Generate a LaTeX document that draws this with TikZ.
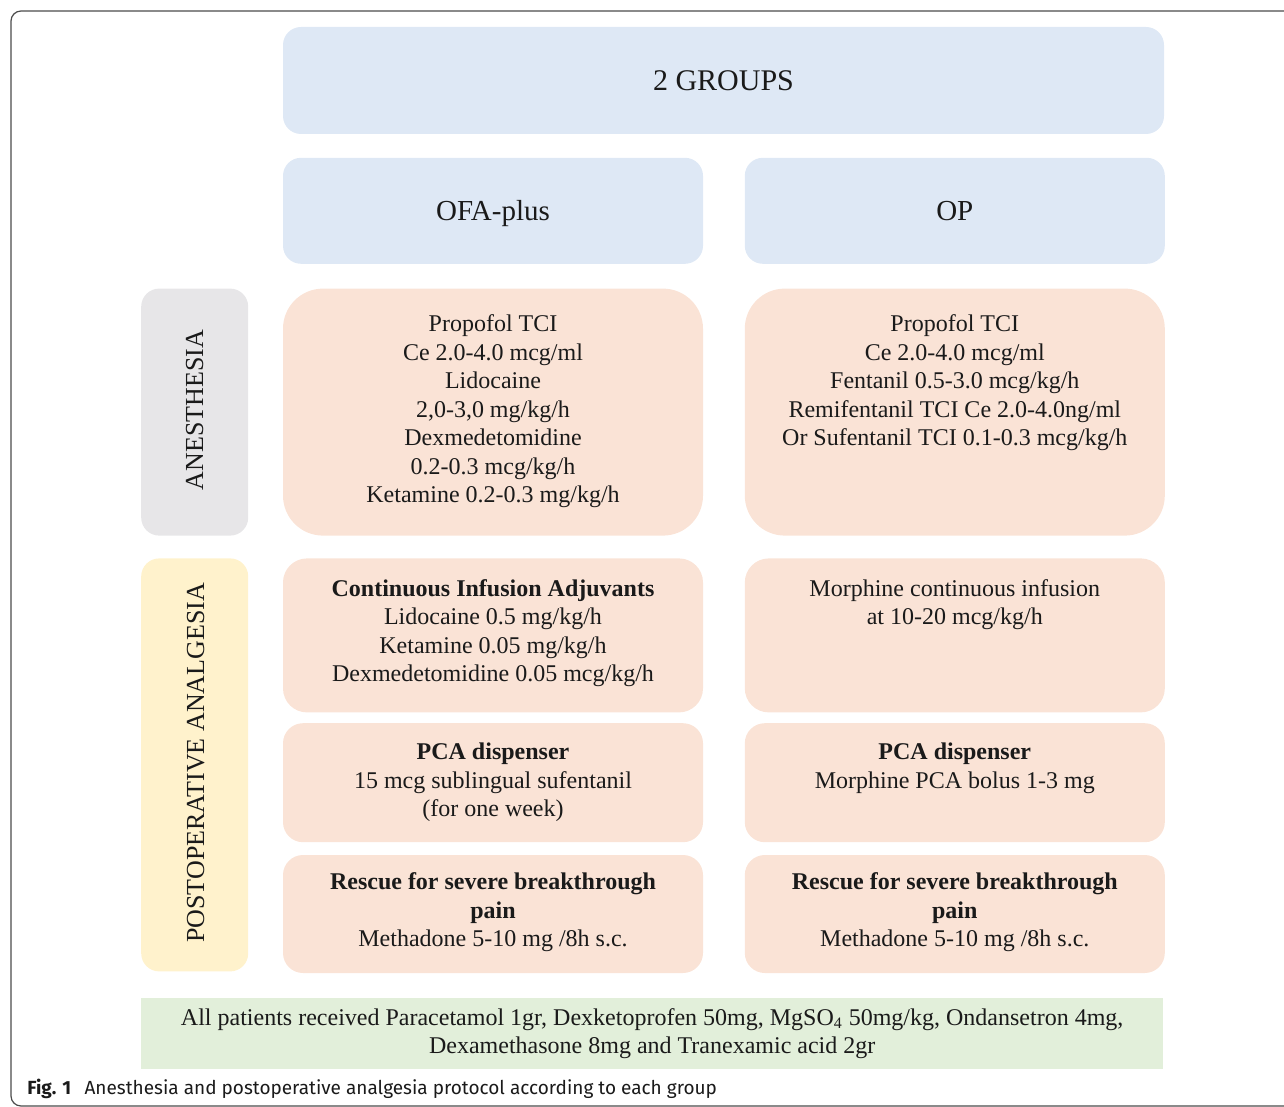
\documentclass[tikz,border=0pt]{standalone}
\usepackage{fontspec}
\setmainfont{Liberation Serif}
\newfontfamily\capfont{Fira Sans}
\usepackage{tikz}
\usetikzlibrary{positioning}

\definecolor{grpblue}{RGB}{222,232,245}
\definecolor{drugpeach}{RGB}{250,227,214}
\definecolor{lblgray}{RGB}{231,230,232}
\definecolor{lblyellow}{RGB}{255,242,204}
\definecolor{allgreen}{RGB}{226,239,218}
\definecolor{inkgray}{RGB}{26,26,26}

\begin{document}
\begin{tikzpicture}[x=0.5pt, y=-0.5pt, text=inkgray,
        font=\fontsize{12}{14.25}\selectfont,
        grpbox/.style={fill=grpblue, rounded corners=9pt, inner sep=0pt,
            minimum width=210pt, minimum height=53pt, text height=9.6pt, text depth=0pt,
            font=\fontsize{14.5}{17}\selectfont},
        drugbox/.style={fill=drugpeach, rounded corners=#1, inner sep=0pt, minimum width=210pt},
        drugbox/.default=10pt,
        drugtext/.style={inner sep=0pt, align=center},
        sidelbl/.style={rounded corners=9pt, inner sep=0pt, minimum width=53.5pt},
        sidetext/.style={rotate=90, font=\fontsize{13}{15}\selectfont}]
    \useasboundingbox (0,0) rectangle (1284,1107);
    % frame of the figure
    \draw[gray!60!black, line width=0.6pt, rounded corners=5pt]
        (1300,1106) -- (11,1106) -- (11,11) -- (1300,11);

    % groups
    \node [grpbox, minimum width=440.5pt, minimum height=53.5pt, font=\fontsize{15}{17}\selectfont] (groups) at (723.5,80.5) {2 GROUPS};
    \node [grpbox, below right=11.5pt and 0pt of groups.south west] (ofa) {OFA-plus};
    \node [grpbox, right=20.5pt of ofa] (op) {OP};

    % anesthesia
    \node [drugbox=20pt, minimum height=123.5pt, below=12pt of ofa] (anesOfa) {};
    \node [drugbox=20pt, minimum height=123.5pt, below=12pt of op] (anesOp) {};
    \node [sidelbl, fill=lblgray, minimum height=123.5pt, left=17pt of anesOfa] (anesLbl) {};
    \node [sidetext, xshift=1pt] (anesTxt) at (anesLbl) {ANESTHESIA};
    \node [drugtext, below=13pt of anesOfa.north] (anesOfaTxt) {Propofol TCI\\Ce 2.0-4.0 mcg/ml\\Lidocaine\\2,0-3,0 mg/kg/h\\Dexmedetomidine\\0.2-0.3 mcg/kg/h\\Ketamine 0.2-0.3 mg/kg/h};
    \node [drugtext, below=13pt of anesOp.north] (anesOpTxt) {Propofol TCI\\Ce 2.0-4.0 mcg/ml\\Fentanil 0.5-3.0 mcg/kg/h\\Remifentanil TCI Ce 2.0-4.0ng/ml\\Or Sufentanil TCI 0.1-0.3 mcg/kg/h};

    % postoperative analgesia
    \node [drugbox=12pt, minimum height=77pt, below=11pt of anesOfa] (infOfa) {};
    \node [drugbox=12pt, minimum height=77pt, below=11pt of anesOp] (infOp) {};
    \node [drugbox, minimum height=59.5pt, below=5pt of infOfa] (pcaOfa) {};
    \node [drugbox, minimum height=59.5pt, below=5pt of infOp] (pcaOp) {};
    \node [drugbox, minimum height=59pt, below=6pt of pcaOfa] (resOfa) {};
    \node [drugbox, minimum height=59pt, below=6pt of pcaOp] (resOp) {};
    \node [sidelbl, fill=lblyellow, minimum height=206.5pt, below=11pt of anesLbl] (postLbl) {};
    \node [sidetext, xshift=1pt, yshift=-0.5pt] (postTxt) at (postLbl) {POSTOPERATIVE ANALGESIA};

    \node [drugtext, below=10.5pt of infOfa.north] (infOfaTxt) {\textbf{Continuous Infusion Adjuvants}\\Lidocaine 0.5 mg/kg/h\\Ketamine 0.05 mg/kg/h\\Dexmedetomidine 0.05 mcg/kg/h};
    \node [drugtext, below=10.5pt of infOp.north] (infOpTxt) {Morphine continuous infusion\\at 10-20 mcg/kg/h};
    \node [drugtext, below=10pt of pcaOfa.north] (pcaOfaTxt) {\textbf{PCA dispenser}\\15 mcg sublingual sufentanil\\(for one week)};
    \node [drugtext, below=10pt of pcaOp.north] (pcaOpTxt) {\textbf{PCA dispenser}\\Morphine PCA bolus 1-3 mg};
    \node [drugtext, below=9pt of resOfa.north] (resOfaTxt) {\textbf{Rescue for severe breakthrough}\\\textbf{pain}\\Methadone 5-10 mg /8h s.c.};
    \node [drugtext, below=9pt of resOp.north] (resOpTxt) {\textbf{Rescue for severe breakthrough}\\\textbf{pain}\\Methadone 5-10 mg /8h s.c.};

    % common to all patients
    \node [fill=allgreen, inner sep=0pt, minimum width=511pt, minimum height=35.5pt,
        below right=13pt and 0pt of postLbl.south west, align=center] (common)
        {All patients received Paracetamol 1gr, Dexketoprofen 50mg, MgSO\textsubscript{4} 50mg/kg, Ondansetron 4mg,\\Dexamethasone 8mg and Tranexamic acid 2gr};

    % caption
    \node [anchor=base west, inner sep=0pt, font=\capfont\fontsize{9.5}{11}\selectfont] (caption) at (27,1094)
        {\textbf{Fig. 1}\hspace{0.7em}Anesthesia and postoperative analgesia protocol according to each group};
\end{tikzpicture}
\end{document}
